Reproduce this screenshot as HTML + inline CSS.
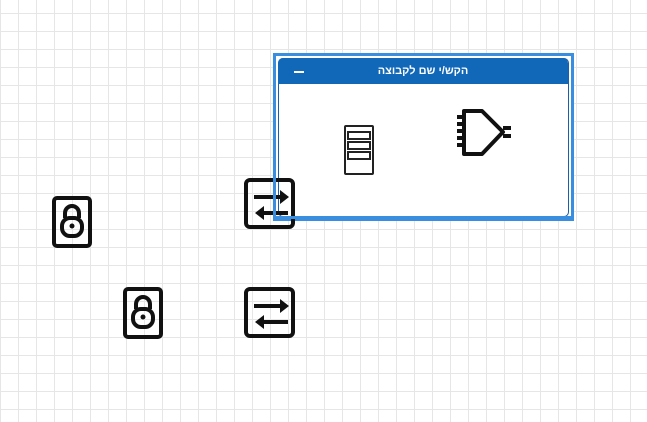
<!DOCTYPE html>
<html><head><meta charset="utf-8"><style>
body{margin:0;width:647px;height:422px;overflow:hidden;background:#fff;
background-image:linear-gradient(to right,#e6e6e6 1px,transparent 1px),linear-gradient(to bottom,#e6e6e6 1px,transparent 1px);
background-size:18px 18px;background-position:0 13px;font-family:"Liberation Sans","Noto Sans CJK SC",sans-serif;position:relative}
.a{position:absolute}
</style></head><body>
<div class="a" style="left:273px;top:53px;width:295px;height:162px;border:3px solid #3a8ee0;background:#fff"></div>
<div class="a" style="left:278px;top:58px;width:289px;height:157px;border:1px solid #1a5fa8;border-radius:5px;background:#fff"></div>
<div class="a" style="left:278px;top:58px;width:290px;height:26px;background:#1168b8;border-radius:5px 5px 0 0;color:#fff;font-weight:bold;font-size:11px;line-height:26px;text-align:center" dir="rtl">הקש/י שם לקבוצה</div>
<div class="a" style="left:294px;top:71px;width:10px;height:2px;background:#fff"></div>
<svg class="a" style="left:0;top:0" width="647" height="422">
<g fill="none" stroke="#222" stroke-width="2">
<rect x="345" y="126" width="28" height="48" rx="1"/>
<rect x="348" y="132" width="22" height="7"/><rect x="348" y="142" width="22" height="7"/><rect x="348" y="152" width="22" height="7"/>
</g>
<g fill="none" stroke="#111" stroke-width="4" stroke-linejoin="round">
<path d="M464 111 H482 L503 132 L482 154 H464 Z"/>
<path d="M457 117h7M457 124h7M457 131h7M457 138h7M457 145h7M503 128h8M503 136h8"/>
</g>
<g fill="none" stroke="#111" stroke-width="4">
<rect x="54" y="198" width="36" height="48" rx="3"/>
<rect x="125" y="289" width="36" height="48" rx="3"/>
<rect x="246" y="180" width="47" height="47" rx="4"/>
<rect x="246" y="289" width="47" height="47" rx="4"/>
<path d="M65 218v-5a7 7 0 0 1 14 0v5"/><rect x="62" y="218" width="20" height="18" rx="8"/>
<path d="M136 309v-5a7 7 0 0 1 14 0v5"/><rect x="133" y="309" width="20" height="18" rx="8"/>
<path d="M254 197h28M262 213h26M254 306h28M262 322h26"/>
</g>
<g fill="#111">
<path d="M280 190l9 7-9 7z M264 206l-9 7 9 7z M280 299l9 7-9 7z M264 315l-9 7 9 7z"/>
<circle cx="72" cy="226" r="2.5"/><circle cx="143" cy="317" r="2.5"/>
</g>
<path d="M274.5 178V217.5H572" fill="none" stroke="#3a8ee0" stroke-width="3"/>
</svg>
</body></html>
